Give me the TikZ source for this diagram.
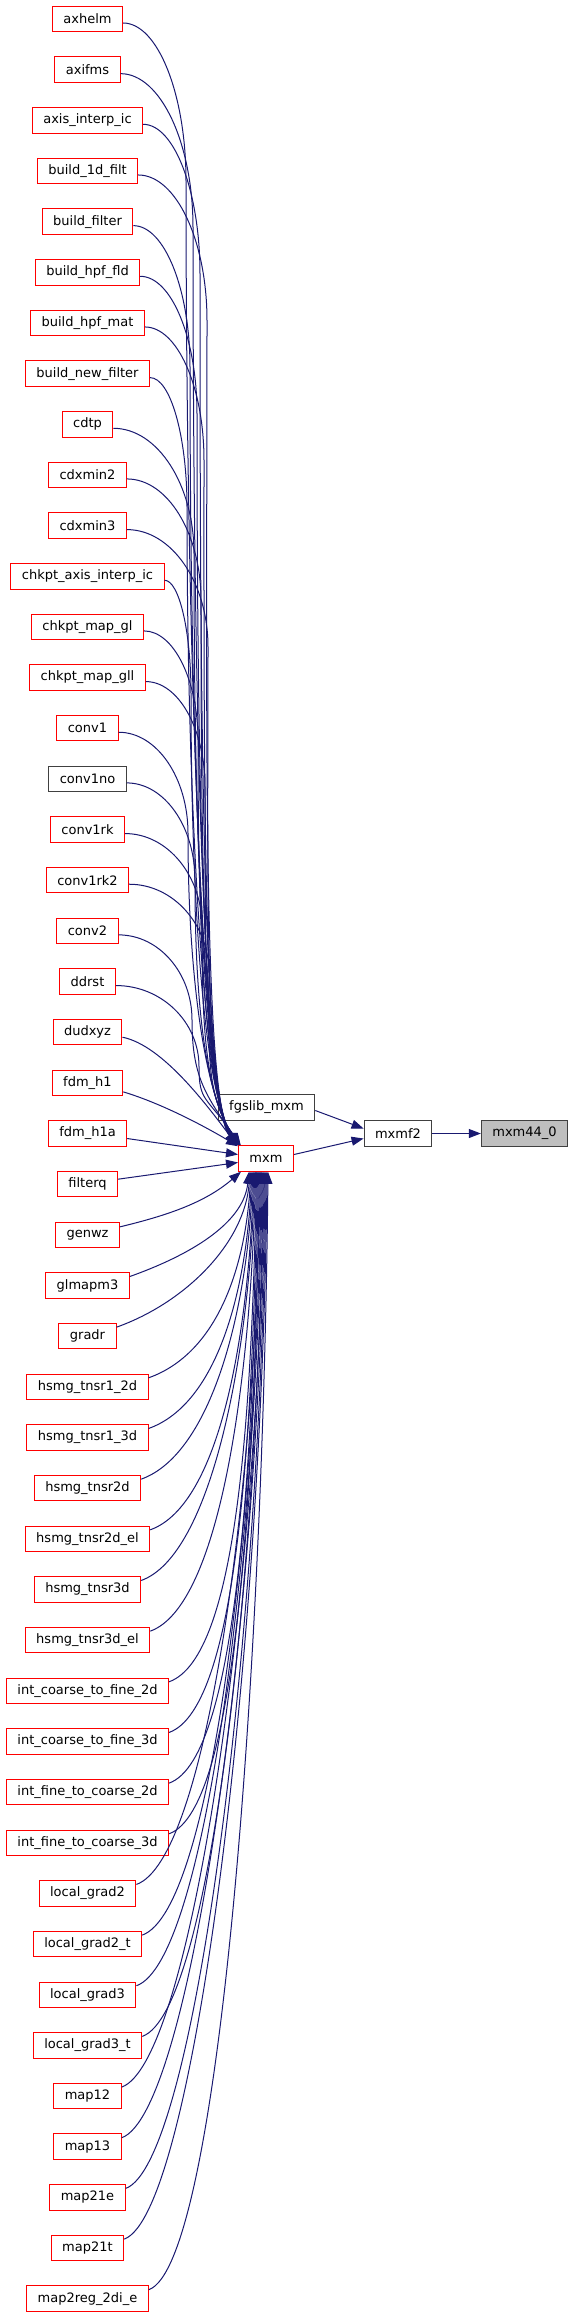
\documentclass[tikz,border=0pt]{standalone}
\usepackage{fontspec}
\setmainfont{DejaVu Sans}
\usetikzlibrary{arrows.meta,calc}
\definecolor{edgeblue}{HTML}{191970}
\definecolor{nodegrey}{HTML}{404040}
\definecolor{rootfill}{HTML}{BFBFBF}
\tikzset{
  box/.style={draw, line width=1pt, minimum height=25.5pt, inner xsep=11pt, inner ysep=0pt,
    font=\fontsize{13pt}{15pt}\selectfont, fill=white},
  redbox/.style={box, draw=red},
  plainbox/.style={box, draw=nodegrey},
  rootbox/.style={box, draw=nodegrey, fill=rootfill},
  edge/.style={draw=edgeblue, line width=1pt, -{Triangle[length=12pt,width=9pt]}}
}
\begin{document}
\begin{tikzpicture}[x=1pt,y=-1pt]
\useasboundingbox (0,0) rectangle (573,2317);
% left column
\foreach \lab/\sty [count=\i from 0] in {
 axhelm/redbox, axifms/redbox, axis\_interp\_ic/redbox, build\_1d\_filt/redbox,
 build\_filter/redbox, build\_hpf\_fld/redbox, build\_hpf\_mat/redbox, build\_new\_filter/redbox,
 cdtp/redbox, cdxmin2/redbox, cdxmin3/redbox, chkpt\_axis\_interp\_ic/redbox,
 chkpt\_map\_gl/redbox, chkpt\_map\_gll/redbox, conv1/redbox, conv1no/plainbox,
 conv1rk/redbox, conv1rk2/redbox, conv2/redbox, ddrst/redbox, dudxyz/redbox,
 fdm\_h1/redbox, fdm\_h1a/redbox, filterq/redbox, genwz/redbox, glmapm3/redbox,
 gradr/redbox, hsmg\_tnsr1\_2d/redbox, hsmg\_tnsr1\_3d/redbox, hsmg\_tnsr2d/redbox,
 hsmg\_tnsr2d\_el/redbox, hsmg\_tnsr3d/redbox, hsmg\_tnsr3d\_el/redbox,
 int\_coarse\_to\_fine\_2d/redbox, int\_coarse\_to\_fine\_3d/redbox,
 int\_fine\_to\_coarse\_2d/redbox, int\_fine\_to\_coarse\_3d/redbox,
 local\_grad2/redbox, local\_grad2\_t/redbox, local\_grad3/redbox, local\_grad3\_t/redbox,
 map12/redbox, map13/redbox, map21e/redbox, map21t/redbox, map2reg\_2di\_e/redbox}
{
  \pgfmathsetmacro\yy{19+50.66*\i}
  \node[\sty] (n\i) at (87.5,\yy) {\lab};
}
% right part
\node[redbox] (mxm) at (266,1158.5) {mxm};
\node[plainbox] (fgs) at (266.5,1107.5) {fgslib\_mxm};
\node[plainbox] (mxmf2) at (398,1133.5) {mxmf2};
\node[rootbox] (root) at (524.5,1133.5) {mxm44\_0};

% upper edges
\foreach \i in {0,...,19} {
  \path (n\i.east); \pgfgetlastxy{\ex}{\ey}
  \pgfmathsetmacro\ys{-\ey+4}
  \pgfmathsetmacro\d{1146-\ys}
  \pgfmathsetmacro\R{80+0.08*(\d-150)}
  \pgfmathsetmacro\xv{186+mod(7*\i,24)}
  \pgfmathsetmacro\cA{0.55*(\xv-\ex)}
  \pgfmathsetmacro\cB{0.55*\R}
  \pgfmathsetmacro\ym{\ys+\R}
  \pgfmathsetmacro\k{0.45*(1146-\ym)}
  \pgfmathsetmacro\tx{-2+0.25*\i}
  \draw[edge] ($(n\i.east)+(0,4)$) .. controls +(\cA,0) and +(0,-\cB) .. (\xv,\ym)
     .. controls +(0,\k) and +(-35,-50) .. ($(mxm.north west)+(\tx,0)$);
}
% special edges near mxm
\draw[edge] ($(n20.east)+(0,5)$) .. controls +(40,8) and +(-30,-40) .. ($(mxm.north west)+(-1,0)$);
\draw[edge] ($(n21.east)+(0,9)$) .. controls +(40,12) and +(-30,-18) .. ($(mxm.north west)+(0,1)$);
\draw[edge] ($(n22.east)+(0,5)$) -- ($(mxm.west)+(0,-4)$);
\draw[edge] ($(n23.east)+(0,-5)$) -- ($(mxm.west)+(0,4)$);
\draw[edge] ($(n24.east)+(0,-8)$) .. controls +(50,-12) and +(-35,30) .. ($(mxm.south west)+(3,0)$);
% lower edges
\foreach \i in {25,...,45} {
  \path (n\i.east); \pgfgetlastxy{\ex}{\ey}
  \pgfmathsetmacro\ys{-\ey-9}
  \pgfmathsetmacro\txr{11+19*(\i-25)/20}
  \pgfmathsetmacro\k{0.45*(\ys-1171)}
  \draw[edge] ($(n\i.east)+(0,-9)$) .. controls +(70,-25) and +(-5,\k) .. ($(mxm.south west)+(\txr,0)$);
}
% right edges
\draw[edge] ($(fgs.east)+(0,3)$) -- ($(mxmf2.west)+(0,-5)$);
\draw[edge] ($(mxm.east)+(0,-4)$) -- ($(mxmf2.west)+(0,5)$);
\draw[edge] (mxmf2) -- (root);
\end{tikzpicture}
\end{document}
